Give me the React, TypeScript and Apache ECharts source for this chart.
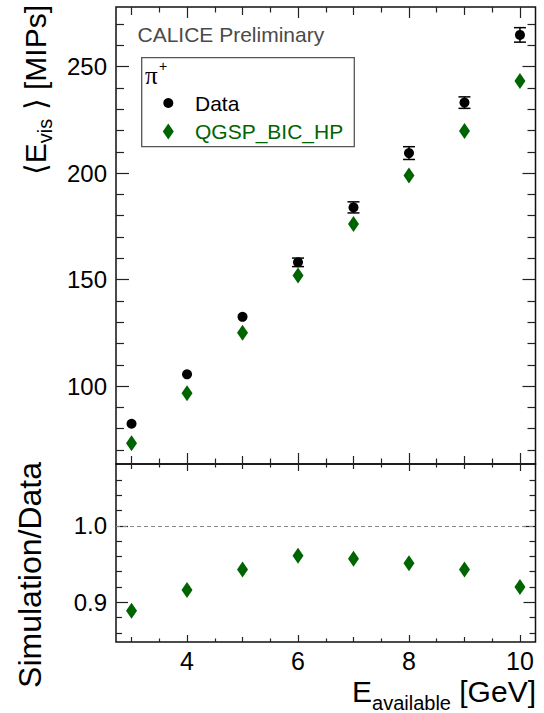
import React, { useEffect, useRef } from 'react';
import * as echarts from 'echarts';

// ---- data ----
const energies = [3, 4, 5, 6, 7, 8, 9, 10];
const dataVis = [82.3, 105.5, 132.5, 158.1, 183.9, 209.4, 233.1, 264.9];
const dataErr = [0.8, 1.0, 1.3, 2.0, 2.6, 3.0, 2.7, 3.4];
const qgspVis = [73.1, 96.6, 125.0, 151.9, 176.1, 198.9, 219.8, 243.3];
const ratioVals = [0.889, 0.916, 0.943, 0.961, 0.957, 0.951, 0.943, 0.92];

// ---- ticks / labels ----
const xEvenTicks = [4, 6, 8, 10];
const xOddTicks = [3, 5, 7, 9];
const xHalfTicks = [3.5, 4.5, 5.5, 6.5, 7.5, 8.5, 9.5];
const xTickLabels = [4, 6, 8, 10];
const topMajorTicks = [100, 150, 200, 250];
const topMinorTicks = [70, 80, 90, 110, 120, 130, 140, 160, 170, 180, 190, 210, 220, 230, 240, 260, 270];
const botMajorTicks = [0.9, 1.0];
const botMinorTicks = [0.86, 0.88, 0.92, 0.94, 0.96, 0.98, 1.02, 1.04, 1.06];

const X_MIN = 2.72, X_MAX = 10.28;
const Y0_MIN = 63.4, Y0_MAX = 278;
const Y1_MIN = 0.848, Y1_MAX = 1.081;

const FONT = "'Liberation Sans', Arial, Helvetica, sans-serif";
const GREEN = '#006400';
const TICK = '#222';

export default function App() {
  const ref = useRef<HTMLDivElement>(null);
  useEffect(() => {
    if (!ref.current) return;
    const chart = echarts.init(ref.current, undefined, { renderer: 'svg' });

    const LEFT = 116, RIGHT_EDGE = 535.5;
    const TOP0 = 7, BOT0 = 464, BOT1 = 642;
    const W = RIGHT_EDGE - LEFT;

    const xAxes: any[] = [];
    const yAxes: any[] = [];
    const addX = (grid: number, position: string, ticks: number[], len: number, labels?: number[]) => {
      xAxes.push({
        type: 'value', gridIndex: grid, position, min: X_MIN, max: X_MAX,
        axisLine: { show: false }, splitLine: { show: false },
        axisTick: { show: true, inside: true, length: len, customValues: ticks, lineStyle: { color: TICK, width: 1.2 } },
        axisLabel: labels
          ? { show: true, customValues: labels, fontSize: 25, color: '#000', fontFamily: FONT, margin: 6, formatter: (v: number) => String(v) }
          : { show: false },
      });
      return xAxes.length - 1;
    };
    const addY = (grid: number, position: string, min: number, max: number, ticks: number[], len: number, labels?: number[], fmt?: (v: number) => string) => {
      yAxes.push({
        type: 'value', gridIndex: grid, position, min, max,
        axisLine: { show: false }, splitLine: { show: false },
        axisTick: { show: true, inside: true, length: len, customValues: ticks, lineStyle: { color: TICK, width: 1.2 } },
        axisLabel: labels
          ? { show: true, customValues: labels, fontSize: 24, color: '#000', fontFamily: FONT, margin: 9, formatter: fmt }
          : { show: false },
      });
      return yAxes.length - 1;
    };

    // top panel
    const xTop = addX(0, 'bottom', xEvenTicks, 11);
    addX(0, 'bottom', xOddTicks, 8);
    addX(0, 'bottom', xHalfTicks, 5.5);
    addX(0, 'top', xEvenTicks, 11);
    addX(0, 'top', xOddTicks, 8);
    addX(0, 'top', xHalfTicks, 5.5);
    const yTop = addY(0, 'left', Y0_MIN, Y0_MAX, topMajorTicks, 13, topMajorTicks, (v) => String(Math.round(v)));
    addY(0, 'left', Y0_MIN, Y0_MAX, topMinorTicks, 8);
    addY(0, 'right', Y0_MIN, Y0_MAX, topMajorTicks, 13);
    addY(0, 'right', Y0_MIN, Y0_MAX, topMinorTicks, 8);
    // bottom panel
    const xBot = addX(1, 'bottom', xEvenTicks, 7, xTickLabels);
    addX(1, 'bottom', xOddTicks, 5);
    addX(1, 'bottom', xHalfTicks, 3.5);
    addX(1, 'top', xEvenTicks, 7);
    addX(1, 'top', xOddTicks, 5);
    addX(1, 'top', xHalfTicks, 3.5);
    const yBot = addY(1, 'left', Y1_MIN, Y1_MAX, botMajorTicks, 12, botMajorTicks, (v) => v.toFixed(1));
    addY(1, 'left', Y1_MIN, Y1_MAX, botMinorTicks, 6);
    addY(1, 'right', Y1_MIN, Y1_MAX, botMajorTicks, 12);
    addY(1, 'right', Y1_MIN, Y1_MAX, botMinorTicks, 6);

    const gridBase = { left: LEFT, width: W, show: true, borderColor: '#111', borderWidth: 1.5, backgroundColor: 'transparent', outerBoundsMode: 'none', containLabel: false };

    const option: any = {
      animation: false,
      backgroundColor: '#fff',
      textStyle: { fontFamily: FONT },
      grid: [
        { ...gridBase, top: TOP0, height: BOT0 - TOP0 },
        { ...gridBase, top: BOT0, height: BOT1 - BOT0 },
      ],
      xAxis: xAxes,
      yAxis: yAxes,
      series: [
        {
          type: 'custom', name: 'Data errors', xAxisIndex: xTop, yAxisIndex: yTop, silent: true, z: 2,
          encode: { x: 0, y: 1 },
          data: energies.map((e, i) => [e, dataVis[i], dataErr[i]]),
          renderItem: (params: any, api: any) => {
            const x = api.value(0), y = api.value(1), er = api.value(2);
            const p1 = api.coord([x, y + er]);
            const p2 = api.coord([x, y - er]);
            // like ROOT: error bars hidden when they stay inside the marker
            if (Math.abs(p2[1] - p1[1]) / 2 < 3.5) return { type: 'group', children: [] };
            const w = 6;
            const st = { stroke: '#000', lineWidth: 1.5 };
            return {
              type: 'group',
              children: [
                { type: 'line', shape: { x1: p1[0], y1: p1[1], x2: p2[0], y2: p2[1] }, style: st },
                { type: 'line', shape: { x1: p1[0] - w, y1: p1[1], x2: p1[0] + w, y2: p1[1] }, style: st },
                { type: 'line', shape: { x1: p2[0] - w, y1: p2[1], x2: p2[0] + w, y2: p2[1] }, style: st },
              ],
            };
          },
        },
        {
          type: 'scatter', name: 'Data', xAxisIndex: xTop, yAxisIndex: yTop, z: 3,
          symbol: 'circle', symbolSize: 10, itemStyle: { color: '#000', opacity: 1 },
          data: energies.map((e, i) => [e, dataVis[i]]),
        },
        {
          type: 'scatter', name: 'QGSP_BIC_HP', xAxisIndex: xTop, yAxisIndex: yTop, z: 3,
          symbol: 'diamond', symbolSize: [11, 16], itemStyle: { color: GREEN, opacity: 1 },
          data: energies.map((e, i) => [e, qgspVis[i]]),
        },
        {
          type: 'scatter', name: 'Simulation/Data', xAxisIndex: xBot, yAxisIndex: yBot, z: 3,
          symbol: 'diamond', symbolSize: [11, 16], itemStyle: { color: GREEN, opacity: 1 },
          data: energies.map((e, i) => [e, ratioVals[i]]),
          markLine: {
            silent: true, symbol: ['none', 'none'], label: { show: false },
            lineStyle: { type: [4, 3], color: '#888', width: 1.2 },
            data: [{ yAxis: 1.0 }],
          },
        },
      ],
      graphic: [
        {
          type: 'text', x: 137.5, y: 34, z: 10,
          style: { text: 'CALICE Preliminary', fontSize: 21, fontFamily: FONT, fill: '#4a4a4a', align: 'left', verticalAlign: 'middle', textAlign: 'left', textVerticalAlign: 'middle' },
        },
        {
          type: 'rect', z: 10, shape: { x: 141.7, y: 57.7, width: 212.6, height: 89 },
          style: { fill: '#fff', stroke: '#555', lineWidth: 1.3 },
        },
        {
          type: 'text', x: 145, y: 75, z: 11,
          style: { text: 'π', fontSize: 25, fontFamily: "'Liberation Serif', 'DejaVu Serif', serif", fill: '#000', align: 'left', verticalAlign: 'middle', textAlign: 'left', textVerticalAlign: 'middle' },
        },
        {
          type: 'text', x: 159, y: 66, z: 11,
          style: { text: '+', fontSize: 14, fontFamily: FONT, fill: '#000', align: 'left', verticalAlign: 'middle', textAlign: 'left', textVerticalAlign: 'middle' },
        },
        { type: 'circle', z: 11, shape: { cx: 168.3, cy: 103, r: 5 }, style: { fill: '#000' } },
        {
          type: 'text', x: 195, y: 103.5, z: 11,
          style: { text: 'Data', fontSize: 21, fontFamily: FONT, fill: '#000', align: 'left', verticalAlign: 'middle', textAlign: 'left', textVerticalAlign: 'middle' },
        },
        {
          type: 'polygon', z: 11,
          shape: { points: [[168.3, 123.5], [173.8, 131.5], [168.3, 139.5], [162.8, 131.5]] },
          style: { fill: GREEN },
        },
        {
          type: 'text', x: 195, y: 131, z: 11,
          style: { text: 'QGSP_BIC_HP', fontSize: 21, fontFamily: FONT, fill: GREEN, align: 'left', verticalAlign: 'middle', textAlign: 'left', textVerticalAlign: 'middle' },
        },
        // y title top panel (rotated)
        {
          type: 'text', x: 20.5, y: 5, z: 10, rotation: Math.PI / 2,
          style: {
            text: '{m|⟨E}{s|vis}{m| ⟩ [MIPs]}',
            align: 'right', verticalAlign: 'top', textAlign: 'right', textVerticalAlign: 'top',
            rich: {
              m: { fontSize: 30, lineHeight: 30, verticalAlign: 'top', fontFamily: FONT, fill: '#000', color: '#000' },
              s: { fontSize: 20, verticalAlign: 'top', padding: [14.5, 0, 0, 0], fontFamily: FONT, fill: '#000', color: '#000' },
            },
          },
        },
        // y title bottom panel (rotated)
        {
          type: 'text', x: 14, y: 462, z: 10, rotation: Math.PI / 2,
          style: {
            text: 'Simulation/Data', fontSize: 32, fontFamily: FONT, fill: '#000',
            align: 'right', verticalAlign: 'top', textAlign: 'right', textVerticalAlign: 'top',
          },
        },
        // x title
        {
          type: 'text', x: 536, y: 676, z: 10,
          style: {
            text: '{m|E}{s|available}{m| [GeV]}',
            align: 'right', verticalAlign: 'top', textAlign: 'right', textVerticalAlign: 'top',
            rich: {
              m: { fontSize: 30, lineHeight: 30, verticalAlign: 'top', fontFamily: FONT, fill: '#000', color: '#000' },
              s: { fontSize: 20, verticalAlign: 'top', padding: [16.5, 0, 0, 0], fontFamily: FONT, fill: '#000', color: '#000' },
            },
          },
        },
      ],
    };
    chart.setOption(option);
    return () => chart.dispose();
  }, []);
  return <div ref={ref} style={{ position: 'fixed', left: 0, top: 0, width: 544, height: 713, background: '#fff' }} />;
}
